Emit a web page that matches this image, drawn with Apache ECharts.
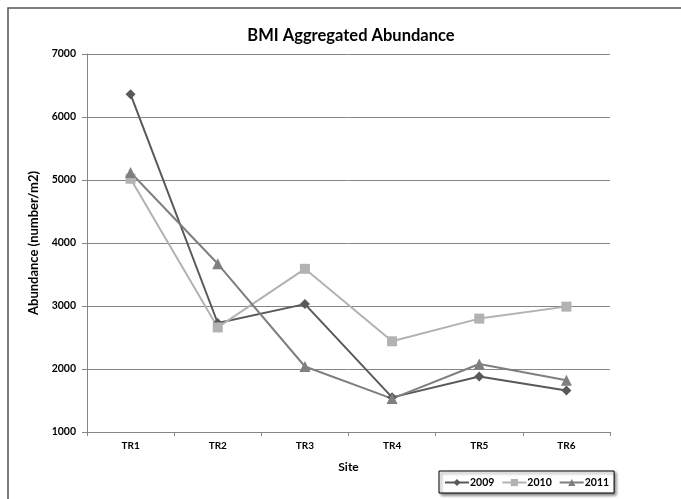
<!DOCTYPE html>
<html>
<head>
<meta charset="utf-8">
<script src="https://cdn.jsdelivr.net/npm/echarts@6/dist/echarts.min.js"></script>
<style>
  html, body { margin: 0; padding: 0; background: #fff; }
  #chart { width: 681px; height: 499px; }
</style>
</head>
<body>
<div id="chart"></div>
<script>
const sites = ["TR1", "TR2", "TR3", "TR4", "TR5", "TR6"];
const abundance2009 = [6360, 2730, 3030, 1550, 1880, 1660];
const abundance2010 = [5020, 2660, 3590, 2440, 2800, 2990];
const abundance2011 = [5120, 3670, 2040, 1530, 2080, 1820];

const font = "Lato, 'Liberation Sans', sans-serif";

const chart = echarts.init(document.getElementById("chart"));

const makeSeries = (name, data, color, symbol, size) => ({
  name,
  type: "line",
  data,
  symbol,
  symbolSize: size,
  lineStyle: { color, width: 2 },
  itemStyle: { color },
  emphasis: { disabled: true },
  animation: false,
});

chart.setOption({
  animation: false,
  textStyle: { fontFamily: font },
  graphic: [
    {
      type: "polyline",
      shape: { points: [[8, 900], [8, 8], [900, 8]] },
      style: { fill: null, stroke: "#555", lineWidth: 1.5 },
      silent: true,
    },
  ],
  title: {
    text: "BMI Aggregated Abundance",
    left: 346,
    textAlign: "center",
    top: 22,
    textStyle: { fontFamily: font, fontSize: 16.5, fontWeight: "bold", color: "#000" },
  },
  legend: {
    left: 439,
    top: 471,
    padding: [6, 5, 5, 5],
    itemGap: 7,
    itemWidth: 24,
    itemHeight: 9,
    borderColor: "#000",
    borderWidth: 1,
    backgroundColor: "#fff",
    shadowColor: "rgba(0,0,0,0.5)",
    shadowBlur: 3,
    shadowOffsetX: 2,
    shadowOffsetY: 2,
    textStyle: { fontFamily: font, fontSize: 10.5, fontWeight: "bold", color: "#000", padding: [0, 0, 0, -4] },
    data: ["2009", "2010", "2011"],
  },
  grid: {
    left: 87,
    right: 71,
    top: 54,
    bottom: 67,
    containLabel: false,
  },
  xAxis: {
    type: "category",
    data: sites,
    boundaryGap: true,
    name: "Site",
    nameLocation: "middle",
    nameGap: 29,
    nameTextStyle: { fontFamily: font, fontSize: 12, fontWeight: "bold", color: "#000" },
    axisLine: { lineStyle: { color: "#868686", width: 1 } },
    axisTick: { show: true, length: 4, alignWithLabel: false, lineStyle: { color: "#868686" } },
    axisLabel: { fontFamily: font, fontSize: 10, fontWeight: "bold", color: "#000", margin: 9 },
  },
  yAxis: {
    type: "value",
    min: 1000,
    max: 7000,
    interval: 1000,
    name: "Abundance (number/m2)",
    nameLocation: "middle",
    nameGap: 46,
    nameTextStyle: { fontFamily: font, fontSize: 13, fontWeight: "bold", color: "#000" },
    axisLine: { show: true, lineStyle: { color: "#868686", width: 1 } },
    axisTick: { show: true, length: 5, lineStyle: { color: "#868686" } },
    axisLabel: {
      fontFamily: font, fontSize: 10.5, fontWeight: "bold", color: "#000", margin: 11,
      formatter: (v) => String(v),
    },
    splitLine: { lineStyle: { color: "#868686", width: 1 } },
  },
  series: [
    makeSeries("2009", abundance2009, "#595959", "diamond", 10),
    makeSeries("2010", abundance2010, "#b2b2b2", "rect", 10),
    makeSeries("2011", abundance2011, "#7f7f7f", "triangle", 11),
  ],
});
</script>
</body>
</html>
